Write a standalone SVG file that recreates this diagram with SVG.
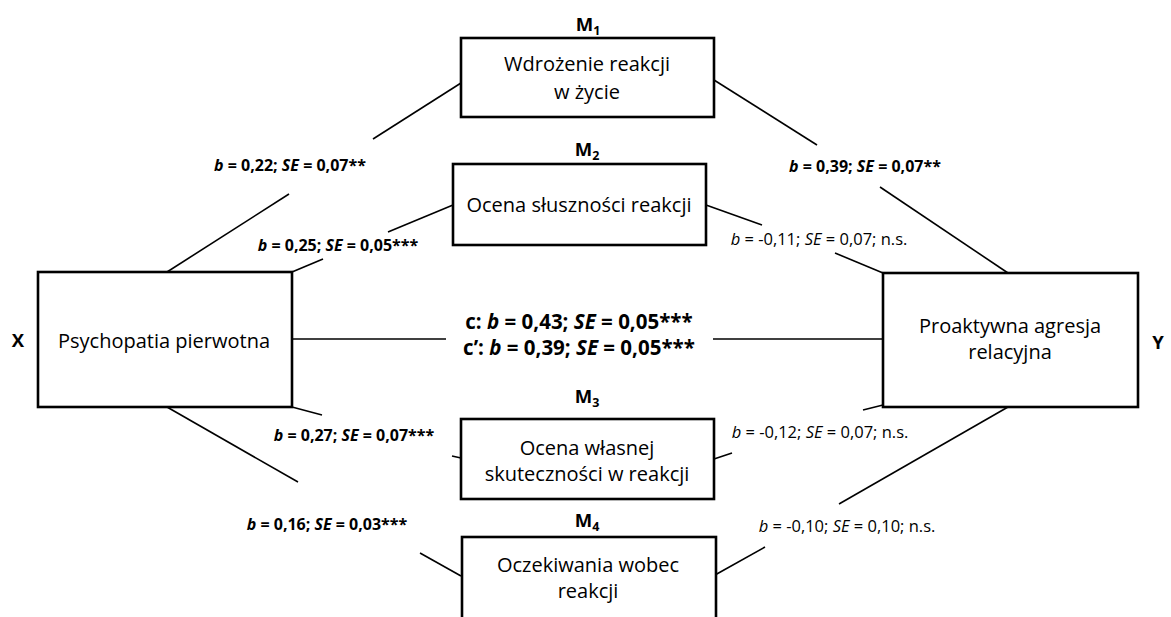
<svg xmlns="http://www.w3.org/2000/svg" width="1171" height="617" viewBox="0 0 1171 617">
<style>
.box{fill:#fff;stroke:#000;stroke-width:2.6}
.con line{stroke:#000;stroke-width:1.6}
text{font-family:"Open Sans",Lato,"Liberation Sans",sans-serif;fill:#000}
.bt{font-size:20px;text-anchor:middle}
.lb{font-size:16px;font-weight:bold;text-anchor:middle}
.lr{font-size:16.5px;text-anchor:middle}
.lc{font-size:20.5px;font-weight:bold;text-anchor:middle}
.ml{font-size:18.5px;font-weight:bold;text-anchor:middle}
.sub{font-size:12.5px}
.it{font-style:italic}
</style>
<rect width="1171" height="617" fill="#fff"/>
<g id="connectors" class="con">
<line x1="167" y1="272" x2="289" y2="194"/>
<line x1="373" y1="139" x2="461" y2="83"/>
<line x1="714" y1="80" x2="817" y2="145"/>
<line x1="880" y1="187" x2="1008" y2="273"/>
<line x1="292" y1="272" x2="323" y2="259"/>
<line x1="388" y1="232" x2="453" y2="205"/>
<line x1="706" y1="205" x2="762" y2="225"/>
<line x1="835" y1="253" x2="883" y2="273"/>
<line x1="292" y1="339" x2="446" y2="339"/>
<line x1="713" y1="339" x2="883" y2="339"/>
<line x1="292" y1="407" x2="322" y2="415"/>
<line x1="452" y1="456" x2="461" y2="458"/>
<line x1="714" y1="459" x2="732" y2="453"/>
<line x1="863" y1="410" x2="883" y2="405"/>
<line x1="167" y1="407" x2="298" y2="482"/>
<line x1="420" y1="553" x2="461" y2="576"/>
<line x1="715" y1="575" x2="765" y2="547"/>
<line x1="839" y1="504" x2="1008" y2="407"/>
</g>
<g id="labels">
<text class="lb" x="290" y="171"><tspan class="it">b</tspan> = 0,22; <tspan class="it">SE</tspan> = 0,07**</text>
<text class="lb" x="865" y="172"><tspan class="it">b</tspan> = 0,39; <tspan class="it">SE</tspan> = 0,07**</text>
<text class="lb" x="338" y="251"><tspan class="it">b</tspan> = 0,25; <tspan class="it">SE</tspan> = 0,05***</text>
<text class="lb" x="354" y="441"><tspan class="it">b</tspan> = 0,27; <tspan class="it">SE</tspan> = 0,07***</text>
<text class="lb" x="327" y="530"><tspan class="it">b</tspan> = 0,16; <tspan class="it">SE</tspan> = 0,03***</text>
<text class="lr" x="819" y="245"><tspan class="it">b</tspan> = -0,11; <tspan class="it">SE</tspan> = 0,07; n.s.</text>
<text class="lr" x="820" y="438"><tspan class="it">b</tspan> = -0,12; <tspan class="it">SE</tspan> = 0,07; n.s.</text>
<text class="lr" x="847" y="532"><tspan class="it">b</tspan> = -0,10; <tspan class="it">SE</tspan> = 0,10; n.s.</text>
<text class="lc" x="579" y="329">c: <tspan class="it">b</tspan> = 0,43; <tspan class="it">SE</tspan> = 0,05***</text>
<text class="lc" x="579" y="355">c’: <tspan class="it">b</tspan> = 0,39; <tspan class="it">SE</tspan> = 0,05***</text>
</g>
<g id="X">
<rect class="box" x="38" y="272" width="254" height="135"/>
<text class="bt" x="164" y="348">Psychopatia pierwotna</text>
<text class="ml" x="18" y="347">X</text>
</g>
<g id="Y">
<rect class="box" x="883" y="273" width="255" height="134"/>
<text class="bt" x="1010" y="333">Proaktywna agresja</text>
<text class="bt" x="1010" y="359">relacyjna</text>
<text class="ml" x="1158" y="349">Y</text>
</g>
<g id="M1">
<rect class="box" x="461" y="38" width="253" height="79"/>
<text class="bt" x="587" y="71">Wdrożenie reakcji</text>
<text class="bt" x="587" y="99">w życie</text>
<text class="ml" x="588" y="31">M<tspan class="sub" dy="4">1</tspan></text>
</g>
<g id="M2">
<rect class="box" x="453" y="164" width="253" height="81"/>
<text class="bt" x="579" y="212">Ocena słuszności reakcji</text>
<text class="ml" x="587" y="156">M<tspan class="sub" dy="4">2</tspan></text>
</g>
<g id="M3">
<rect class="box" x="461" y="419" width="253" height="80"/>
<text class="bt" x="587" y="455">Ocena własnej</text>
<text class="bt" x="587" y="481">skuteczności w reakcji</text>
<text class="ml" x="587" y="403">M<tspan class="sub" dy="4">3</tspan></text>
</g>
<g id="M4">
<rect class="box" x="462" y="537" width="254" height="100"/>
<text class="bt" x="588" y="572">Oczekiwania wobec</text>
<text class="bt" x="588" y="598">reakcji</text>
<text class="ml" x="587" y="527">M<tspan class="sub" dy="4">4</tspan></text>
</g>
</svg>
